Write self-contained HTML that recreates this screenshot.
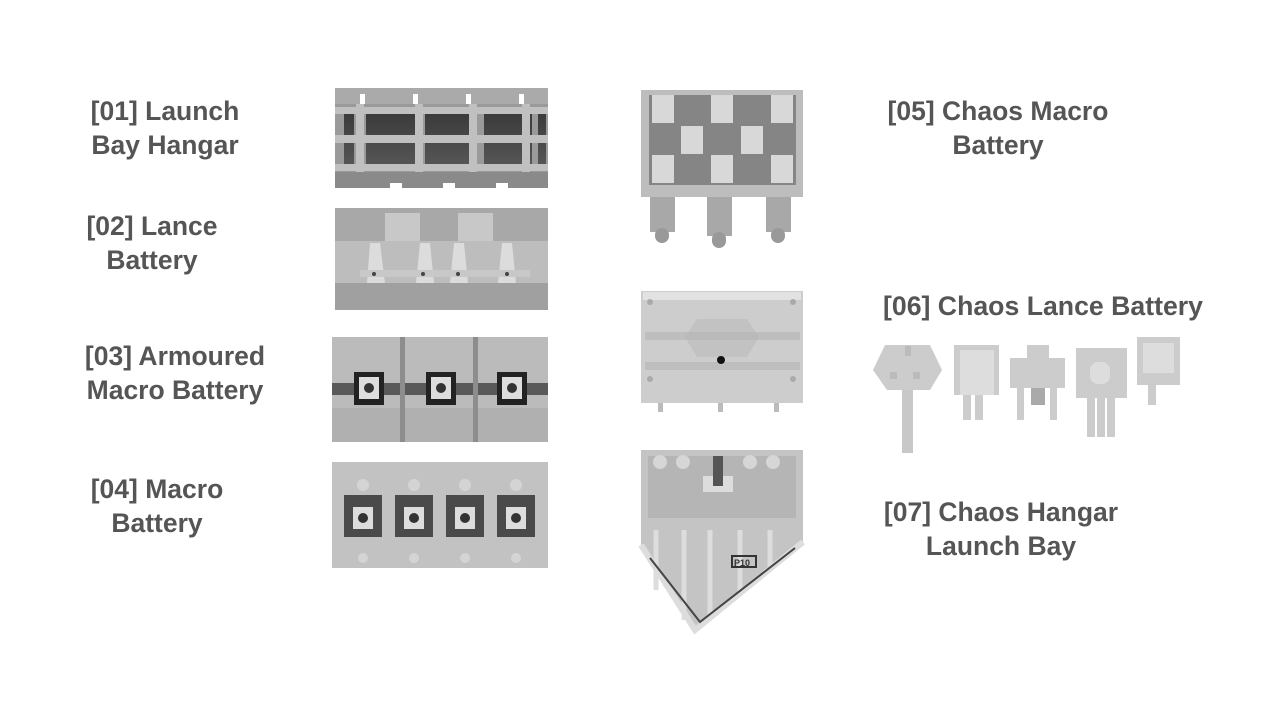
<!DOCTYPE html>
<html><head><style>
html,body{margin:0;padding:0;background:#fff;width:1280px;height:720px;overflow:hidden}
svg{display:block}
text{font-family:"Liberation Sans",sans-serif;font-weight:bold;fill:#555;font-size:26.5px}
</style></head><body>
<svg width="1280" height="720" viewBox="0 0 1280 720">
<defs>
<linearGradient id="dk" x1="0" y1="0" x2="0" y2="1"><stop offset="0" stop-color="#3a3a3a"/><stop offset="1" stop-color="#555"/></linearGradient>
</defs>
<text x="165" y="120" text-anchor="middle">[01] Launch</text>
<text x="165" y="154" text-anchor="middle">Bay Hangar</text>
<text x="152" y="235" text-anchor="middle">[02] Lance</text>
<text x="152" y="269" text-anchor="middle">Battery</text>
<text x="175" y="365" text-anchor="middle">[03] Armoured</text>
<text x="175" y="399" text-anchor="middle">Macro Battery</text>
<text x="157" y="498" text-anchor="middle">[04] Macro</text>
<text x="157" y="532" text-anchor="middle">Battery</text>
<text x="998" y="120" text-anchor="middle">[05] Chaos Macro</text>
<text x="998" y="154" text-anchor="middle">Battery</text>
<text x="883" y="315" textLength="320" lengthAdjust="spacingAndGlyphs">[06] Chaos Lance Battery</text>
<text x="1001" y="521" text-anchor="middle">[07] Chaos Hangar</text>
<text x="1001" y="555" text-anchor="middle">Launch Bay</text>

<g>
<rect x="335" y="94" width="213" height="88" fill="#9a9a9a"/>
<rect x="335" y="88" width="213" height="16" fill="#aaa"/>
<rect x="335" y="172" width="213" height="16" fill="#8a8a8a"/>
<g fill="url(#dk)">
<rect x="344" y="112" width="10" height="52"/><rect x="366" y="112" width="52" height="52"/>
<rect x="425" y="112" width="50" height="52"/><rect x="484" y="112" width="48" height="52"/><rect x="538" y="112" width="8" height="52"/>
</g>
<g fill="#c0c0c0">
<rect x="335" y="107" width="213" height="7"/><rect x="335" y="135" width="213" height="8"/><rect x="335" y="164" width="213" height="7"/>
<rect x="356" y="104" width="8" height="68"/><rect x="415" y="104" width="8" height="68"/><rect x="469" y="104" width="8" height="68"/><rect x="522" y="104" width="8" height="68"/>
</g>
<g fill="#fff"><rect x="360" y="94" width="5" height="10"/><rect x="413" y="94" width="5" height="10"/><rect x="466" y="94" width="5" height="10"/><rect x="519" y="94" width="5" height="10"/>
<rect x="390" y="183" width="12" height="6"/><rect x="443" y="183" width="12" height="6"/><rect x="496" y="183" width="12" height="6"/></g>
</g>

<g>
<rect x="335" y="208" width="213" height="102" fill="#bdbdbd"/>
<rect x="335" y="208" width="213" height="33" fill="#a8a8a8"/>
<rect x="335" y="283" width="213" height="27" fill="#a0a0a0"/>
<rect x="385" y="213" width="35" height="28" fill="#c8c8c8"/><rect x="458" y="213" width="35" height="28" fill="#c8c8c8"/>
<g fill="#dcdcdc"><path d="M370 243 l10 0 l5 40 l-18 0z"/><path d="M420 243 l10 0 l4 40 l-18 0z"/><path d="M454 243 l10 0 l4 40 l-18 0z"/><path d="M502 243 l10 0 l4 40 l-18 0z"/></g>
<rect x="360" y="270" width="170" height="7" fill="#c8c8c8"/>
<g fill="#444"><circle cx="374" cy="274" r="2"/><circle cx="423" cy="274" r="2"/><circle cx="458" cy="274" r="2"/><circle cx="507" cy="274" r="2"/></g>
</g>

<g>
<rect x="332" y="337" width="216" height="105" fill="#bbb"/>
<rect x="332" y="408" width="216" height="34" fill="#b0b0b0"/>
<rect x="332" y="383" width="216" height="12" fill="#595959"/>
<rect x="400" y="337" width="5" height="105" fill="#8d8d8d"/><rect x="473" y="337" width="5" height="105" fill="#8d8d8d"/>
<g>
<rect x="354" y="372" width="30" height="33" fill="#222"/><rect x="359" y="377" width="20" height="22" fill="#ddd"/><circle cx="369" cy="388" r="5" fill="#333"/>
<rect x="426" y="372" width="30" height="33" fill="#222"/><rect x="431" y="377" width="20" height="22" fill="#ddd"/><circle cx="441" cy="388" r="5" fill="#333"/>
<rect x="497" y="372" width="30" height="33" fill="#222"/><rect x="502" y="377" width="20" height="22" fill="#ddd"/><circle cx="512" cy="388" r="5" fill="#333"/>
</g>
</g>

<g>
<rect x="332" y="462" width="216" height="106" fill="#c2c2c2"/>
<g fill="#4a4a4a"><rect x="344" y="495" width="38" height="42"/><rect x="395" y="495" width="38" height="42"/><rect x="446" y="495" width="38" height="42"/><rect x="497" y="495" width="38" height="42"/></g>
<g fill="#ddd"><rect x="353" y="507" width="20" height="22"/><rect x="404" y="507" width="20" height="22"/><rect x="455" y="507" width="20" height="22"/><rect x="506" y="507" width="20" height="22"/></g>
<g fill="#333"><circle cx="363" cy="518" r="5"/><circle cx="414" cy="518" r="5"/><circle cx="465" cy="518" r="5"/><circle cx="516" cy="518" r="5"/></g>
<g fill="#d4d4d4"><circle cx="363" cy="485" r="6"/><circle cx="414" cy="485" r="6"/><circle cx="465" cy="485" r="6"/><circle cx="516" cy="485" r="6"/>
<circle cx="363" cy="558" r="5"/><circle cx="414" cy="558" r="5"/><circle cx="465" cy="558" r="5"/><circle cx="516" cy="558" r="5"/></g>
</g>

<g>
<g fill="#a8a8a8"><rect x="650" y="196" width="25" height="36"/><rect x="707" y="196" width="25" height="40"/><rect x="766" y="196" width="25" height="36"/></g>
<g fill="#999"><rect x="655" y="228" width="14" height="15" rx="7"/><rect x="712" y="232" width="14" height="16" rx="7"/><rect x="771" y="228" width="14" height="15" rx="7"/></g>
<rect x="641" y="90" width="162" height="107" fill="#bdbdbd"/>
<rect x="649" y="95" width="147" height="90" fill="#858585"/>
<g fill="#d8d8d8">
<rect x="652" y="95" width="22" height="28"/><rect x="711" y="95" width="22" height="28"/><rect x="771" y="95" width="22" height="28"/>
<rect x="681" y="126" width="22" height="28"/><rect x="741" y="126" width="22" height="28"/>
<rect x="652" y="155" width="22" height="28"/><rect x="711" y="155" width="22" height="28"/><rect x="771" y="155" width="22" height="28"/>
</g>
</g>

<g>
<g fill="#bbb"><rect x="658" y="400" width="5" height="12"/><rect x="718" y="400" width="5" height="12"/><rect x="774" y="400" width="5" height="12"/></g>
<rect x="641" y="291" width="162" height="112" fill="#cdcdcd"/>
<rect x="643" y="292" width="158" height="8" fill="#e2e2e2"/>
<path d="M685 337 l12 -18 l50 0 l12 18 l-12 20 l-50 0z" fill="#c2c2c2"/>
<rect x="645" y="332" width="155" height="8" fill="#b4b4b4" opacity=".6"/>
<rect x="645" y="362" width="155" height="8" fill="#b4b4b4" opacity=".6"/>
<circle cx="721" cy="360" r="4" fill="#111"/>
<g fill="#aaa"><circle cx="650" cy="302" r="3"/><circle cx="793" cy="302" r="3"/><circle cx="650" cy="379" r="3"/><circle cx="793" cy="379" r="3"/></g>
</g>

<g>
<path d="M641 450 L803 450 L803 542 L695 630 L641 545 Z" fill="#c4c4c4"/>
<rect x="648" y="456" width="148" height="62" fill="#b5b5b5"/>
<g fill="#d6d6d6"><circle cx="660" cy="462" r="7"/><circle cx="683" cy="462" r="7"/><circle cx="750" cy="462" r="7"/><circle cx="773" cy="462" r="7"/></g>
<rect x="703" y="476" width="30" height="16" fill="#ddd"/><rect x="713" y="456" width="10" height="30" fill="#555"/>
<g stroke="#ddd" stroke-width="5"><line x1="656" y1="530" x2="656" y2="590"/><line x1="684" y1="530" x2="684" y2="620"/><line x1="710" y1="530" x2="710" y2="615"/><line x1="740" y1="530" x2="740" y2="595"/><line x1="770" y1="530" x2="770" y2="570"/></g>
<path d="M641 545 L695 630 L803 542" fill="none" stroke="#ddd" stroke-width="6"/>
<path d="M650 558 L700 622 L795 548" fill="none" stroke="#444" stroke-width="2"/>
<rect x="732" y="556" width="24" height="11" fill="none" stroke="#333" stroke-width="2"/>
<text x="734" y="566" style="font-size:9px;fill:#333">P10</text>
</g>

<g fill="#ccc">
<rect x="902" y="385" width="11" height="68" fill="#c8c8c8"/>
<path d="M885 345 L930 345 L942 370 L930 390 L887 390 L873 370 Z"/>
<g fill="#bbb"><rect x="890" y="372" width="7" height="7"/><rect x="913" y="372" width="7" height="7"/><rect x="905" y="346" width="6" height="10"/></g>
<rect x="963" y="390" width="8" height="30"/><rect x="975" y="390" width="8" height="30"/>
<rect x="954" y="345" width="45" height="50"/><rect x="960" y="350" width="34" height="45" fill="#ddd"/>
<rect x="1017" y="360" width="7" height="60"/><rect x="1050" y="360" width="7" height="60"/><rect x="1031" y="385" width="14" height="20" fill="#aaa"/>
<rect x="1010" y="358" width="55" height="30"/><rect x="1027" y="345" width="22" height="15"/>
<rect x="1087" y="395" width="8" height="42"/><rect x="1097" y="395" width="8" height="42"/><rect x="1107" y="395" width="8" height="42"/>
<rect x="1076" y="348" width="51" height="50"/><rect x="1090" y="362" width="20" height="22" rx="8" fill="#ddd"/>
<rect x="1148" y="380" width="8" height="25"/>
<rect x="1137" y="337" width="43" height="48"/><rect x="1143" y="343" width="31" height="30" fill="#ddd"/>
</g>
</svg>
</body></html>
